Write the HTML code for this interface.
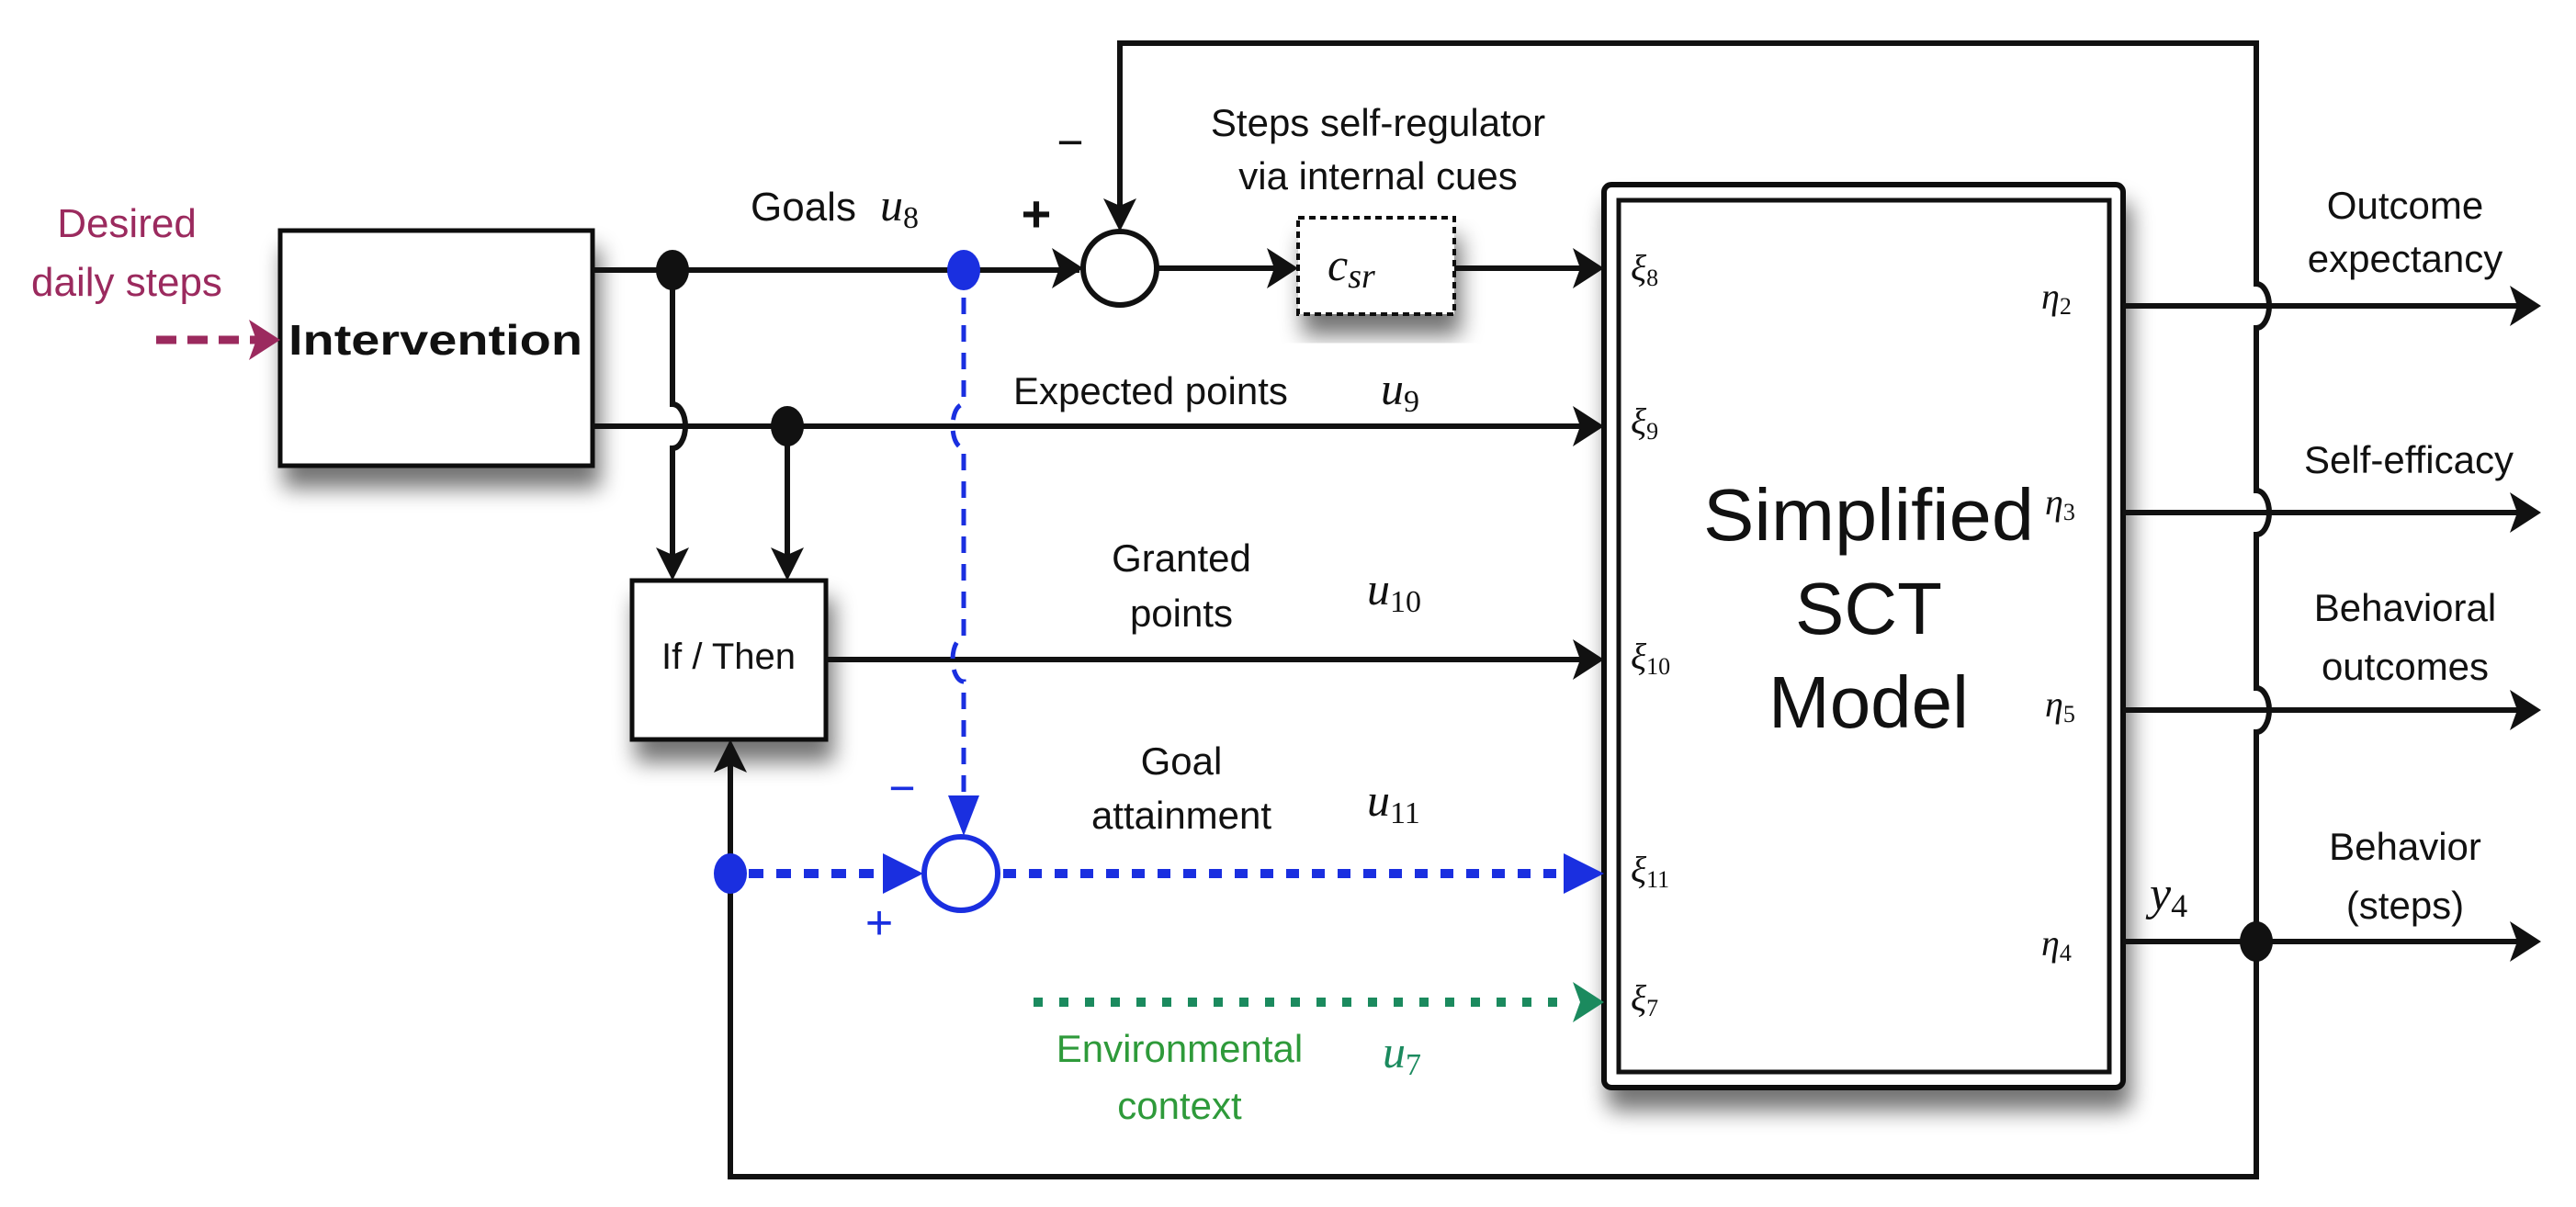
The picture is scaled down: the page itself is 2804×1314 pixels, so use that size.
<!DOCTYPE html>
<html><head><meta charset="utf-8"><style>
html,body{margin:0;padding:0;background:#fff}
svg{display:block}
.t{font-family:"Liberation Sans",sans-serif;fill:#111}
.m{font-family:"Liberation Serif",serif;font-style:italic;fill:#111}
</style></head><body>
<svg width="2804" height="1314" viewBox="0 0 2804 1314" xmlns="http://www.w3.org/2000/svg">
<defs>
<filter id="sh" x="-20%" y="-20%" width="150%" height="150%">
<feGaussianBlur in="SourceAlpha" stdDeviation="12"/><feOffset dx="6" dy="22"/>
<feComponentTransfer><feFuncA type="linear" slope="0.55"/></feComponentTransfer>
<feMerge><feMergeNode/><feMergeNode in="SourceGraphic"/></feMerge></filter>
</defs>
<rect width="2804" height="1314" fill="#fff"/>

<!-- boxes -->
<rect x="305" y="251" width="340" height="256" fill="#fff" stroke="#111" stroke-width="5" filter="url(#sh)"/>
<rect x="688" y="632" width="211" height="173" fill="#fff" stroke="#111" stroke-width="5" filter="url(#sh)"/>
<rect x="1413" y="237" width="170" height="105" fill="#fff" stroke="#111" stroke-width="4" stroke-dasharray="7 5" filter="url(#sh)"/>
<rect x="1746" y="201" width="565" height="983" rx="8" fill="#fff" stroke="#111" stroke-width="6" filter="url(#sh)"/>
<rect x="1762" y="218" width="534" height="949" fill="none" stroke="#111" stroke-width="5"/>

<g fill="none" stroke="#111" stroke-width="6">
<!-- goals line -->
<line x1="645" y1="294" x2="1175" y2="294"/>
<circle cx="1219" cy="292" r="40" stroke-width="6"/>
<line x1="1259" y1="292" x2="1405" y2="292"/>
<line x1="1583" y1="292" x2="1738" y2="292"/>
<!-- expected points -->
<line x1="645" y1="464" x2="1738" y2="464"/>
<!-- vertical from 732 with hump -->
<path d="M732 294 V440 A 14 24 0 0 1 732 488 V620"/>
<line x1="857" y1="464" x2="857" y2="620"/>
<!-- granted -->
<line x1="899" y1="718" x2="1738" y2="718"/>
<!-- feedback loop -->
<path d="M795 815 V1281 H2456 V797 A14 24 0 0 0 2456 749 V582 A14 24 0 0 0 2456 534 V357 A14 24 0 0 0 2456 309 V47 H1219 V245"/>
<!-- outputs -->
<line x1="2311" y1="333" x2="2756" y2="333"/>
<line x1="2311" y1="558" x2="2756" y2="558"/>
<line x1="2311" y1="773" x2="2756" y2="773"/>
<line x1="2311" y1="1025" x2="2756" y2="1025"/>
</g>
<!-- black arrowheads -->
<g fill="#111">
<path d="M1179 292 l-34 -22 l8 22 l-8 22z"/>
<path d="M1413 292 l-34 -22 l8 22 l-8 22z"/>
<path d="M1746 292 l-34 -22 l8 22 l-8 22z"/>
<path d="M1746 464 l-34 -22 l8 22 l-8 22z"/>
<path d="M1746 718 l-34 -22 l8 22 l-8 22z"/>
<path d="M2766 333 l-34 -22 l8 22 l-8 22z"/>
<path d="M2766 558 l-34 -22 l8 22 l-8 22z"/>
<path d="M2766 773 l-34 -22 l8 22 l-8 22z"/>
<path d="M2766 1025 l-34 -22 l8 22 l-8 22z"/>
<path d="M732 632 l-18 -36 l18 8 l18 -8z"/>
<path d="M857 632 l-18 -36 l18 8 l18 -8z"/>
<path d="M1219 252 l-18 -36 l18 8 l18 -8z"/>
<path d="M795 805 l-18 36 l18 -8 l18 8z"/>
<ellipse cx="732" cy="294" rx="18" ry="22"/>
<ellipse cx="857" cy="464" rx="18" ry="22"/>
<ellipse cx="2456" cy="1025" rx="18" ry="22"/>
</g>

<!-- blue -->
<g stroke="#1a2fe0" fill="none">
<path d="M1049 294 V440 A12 24 0 0 0 1049 488 V694 A12 24 0 0 0 1049 742 V880" stroke-width="5" stroke-dasharray="18 12"/>
<line x1="815" y1="951" x2="970" y2="951" stroke-width="10" stroke-dasharray="16 14"/>
<circle cx="1046" cy="951" r="40" stroke-width="6"/>
<line x1="1092" y1="951" x2="1700" y2="951" stroke-width="10" stroke-dasharray="14 14"/>
</g>
<g fill="#1a2fe0">
<ellipse cx="1049" cy="294" rx="18" ry="22"/>
<ellipse cx="795" cy="951" rx="18" ry="22"/>
<path d="M1049 910 l-17 -44 h34z"/>
<path d="M1005 951 l-44 -22 v44z"/>
<path d="M1746 951 l-44 -22 v44z"/>
</g>
<text x="982" y="875" font-family="Liberation Sans,sans-serif" font-size="50" fill="#1a2fe0" text-anchor="middle">−</text>
<text x="957" y="1022" font-family="Liberation Sans,sans-serif" font-size="52" fill="#1a2fe0" text-anchor="middle">+</text>

<!-- green -->
<line x1="1125" y1="1091" x2="1710" y2="1091" stroke="#1b8a5e" stroke-width="10" stroke-dasharray="10 18"/>
<path d="M1746 1091 l-34 -22 l8 22 l-8 22z" fill="#1b8a5e"/>

<!-- maroon -->
<line x1="170" y1="370" x2="280" y2="370" stroke="#9b2a5e" stroke-width="9" stroke-dasharray="22 12"/>
<path d="M305 370 l-34 -22 l8 22 l-8 22z" fill="#9b2a5e"/>
<text x="138" y="258" font-family="Liberation Sans,sans-serif" font-size="44" fill="#9b2a5e" text-anchor="middle">Desired</text>
<text x="138" y="322" font-family="Liberation Sans,sans-serif" font-size="44" fill="#9b2a5e" text-anchor="middle">daily steps</text>

<!-- labels -->
<text class="t" x="474" y="386" font-size="46" font-weight="bold" text-anchor="middle" textLength="320" lengthAdjust="spacingAndGlyphs">Intervention</text>
<text class="t" x="793" y="728" font-size="40" text-anchor="middle">If / Then</text>
<text class="t" x="817" y="240" font-size="44">Goals</text>
<text class="m" x="958" y="240" font-size="50">u<tspan font-size="34" dy="8" font-style="normal">8</tspan></text>
<text class="t" x="1128" y="252" font-size="56" font-weight="bold" text-anchor="middle">+</text>
<text class="t" x="1165" y="172" font-size="50" text-anchor="middle">−</text>
<text class="t" x="1500" y="148" font-size="42" text-anchor="middle">Steps self-regulator</text>
<text class="t" x="1500" y="206" font-size="42" text-anchor="middle">via internal cues</text>
<text class="m" x="1445" y="305" font-size="50">c<tspan font-size="38" dy="8">sr</tspan></text>
<text class="t" x="1103" y="440" font-size="42">Expected points</text>
<text class="m" x="1503" y="440" font-size="50">u<tspan font-size="34" dy="8" font-style="normal">9</tspan></text>
<text class="t" x="1286" y="622" font-size="42" text-anchor="middle">Granted</text>
<text class="t" x="1286" y="682" font-size="42" text-anchor="middle">points</text>
<text class="m" x="1488" y="658" font-size="50">u<tspan font-size="34" dy="8" font-style="normal">10</tspan></text>
<text class="t" x="1286" y="843" font-size="42" text-anchor="middle">Goal</text>
<text class="t" x="1286" y="902" font-size="42" text-anchor="middle">attainment</text>
<text class="m" x="1488" y="888" font-size="50">u<tspan font-size="34" dy="8" font-style="normal">11</tspan></text>
<text x="1284" y="1156" font-family="Liberation Sans,sans-serif" font-size="42" fill="#2e9a3a" text-anchor="middle">Environmental</text>
<text x="1284" y="1218" font-family="Liberation Sans,sans-serif" font-size="42" fill="#2e9a3a" text-anchor="middle">context</text>
<text x="1505" y="1162" font-family="Liberation Serif,serif" font-style="italic" font-size="50" fill="#1b8a5e">u<tspan font-size="34" dy="8" font-style="normal">7</tspan></text>

<text class="t" x="2034" y="588" font-size="80" text-anchor="middle" textLength="360" lengthAdjust="spacingAndGlyphs">Simplified</text>
<text class="t" x="2034" y="690" font-size="80" text-anchor="middle">SCT</text>
<text class="t" x="2034" y="792" font-size="80" text-anchor="middle">Model</text>

<text class="m" x="1775" y="305" font-size="40">ξ<tspan font-size="26" dy="6" font-style="normal">8</tspan></text>
<text class="m" x="1775" y="472" font-size="40">ξ<tspan font-size="26" dy="6" font-style="normal">9</tspan></text>
<text class="m" x="1775" y="728" font-size="40">ξ<tspan font-size="26" dy="6" font-style="normal">10</tspan></text>
<text class="m" x="1775" y="960" font-size="40">ξ<tspan font-size="26" dy="6" font-style="normal">11</tspan></text>
<text class="m" x="1775" y="1100" font-size="40">ξ<tspan font-size="26" dy="6" font-style="normal">7</tspan></text>
<text class="m" x="2222" y="336" font-size="40">η<tspan font-size="26" dy="6" font-style="normal">2</tspan></text>
<text class="m" x="2226" y="560" font-size="40">η<tspan font-size="26" dy="6" font-style="normal">3</tspan></text>
<text class="m" x="2226" y="780" font-size="40">η<tspan font-size="26" dy="6" font-style="normal">5</tspan></text>
<text class="m" x="2222" y="1040" font-size="40">η<tspan font-size="26" dy="6" font-style="normal">4</tspan></text>
<text class="m" x="2340" y="990" font-size="52">y<tspan font-size="36" dy="8" font-style="normal">4</tspan></text>

<text class="t" x="2618" y="238" font-size="42" text-anchor="middle">Outcome</text>
<text class="t" x="2618" y="296" font-size="42" text-anchor="middle">expectancy</text>
<text class="t" x="2622" y="515" font-size="42" text-anchor="middle">Self-efficacy</text>
<text class="t" x="2618" y="676" font-size="42" text-anchor="middle">Behavioral</text>
<text class="t" x="2618" y="740" font-size="42" text-anchor="middle">outcomes</text>
<text class="t" x="2618" y="936" font-size="42" text-anchor="middle">Behavior</text>
<text class="t" x="2618" y="1000" font-size="42" text-anchor="middle">(steps)</text>
</svg>
</body></html>
